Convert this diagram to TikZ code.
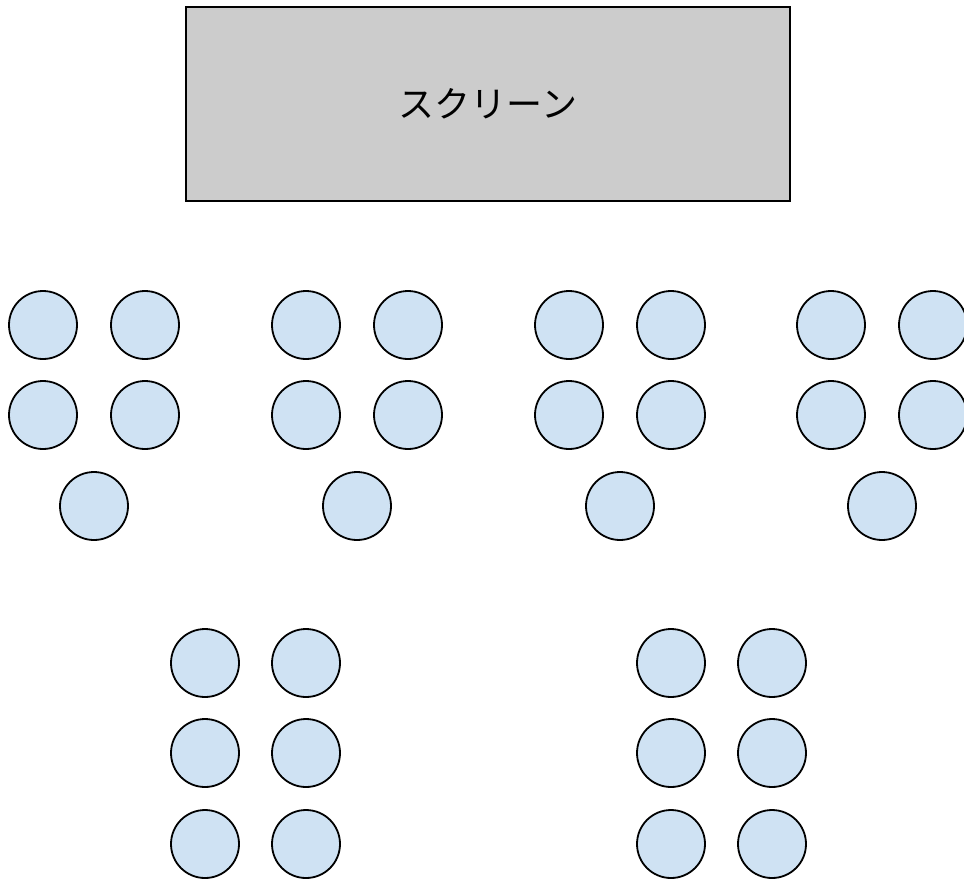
\documentclass[tikz,border=0pt]{standalone}
\usepackage{fontspec}
\newfontfamily\cjk{Noto Sans CJK JP}
\definecolor{seatblue}{HTML}{CFE2F3}
\definecolor{screengray}{HTML}{CCCCCC}
\tikzset{
  seat/.style={circle, draw=black, line width=1.8pt, fill=seatblue, minimum size=68pt, inner sep=0pt},
  screenbox/.style={draw=black, line width=1.8pt, fill=screengray, minimum width=604pt, minimum height=194pt, inner sep=0pt,
    font=\cjk\fontsize{36}{42}\selectfont}
}
\begin{document}
\begin{tikzpicture}[x=1pt,y=-1pt]
\useasboundingbox (0,0) rectangle (964,879);
\node[screenbox] (screen) at (488,104) {スクリーン};
% top groups of five
\foreach \g/\gx in {1/43,2/306,3/569,4/831}{
  \node[seat] (g\g a) at (\gx,325) {};
  \node[seat] (g\g b) at (\gx+102,325) {};
  \node[seat] (g\g c) at (\gx,415) {};
  \node[seat] (g\g d) at (\gx+102,415) {};
  \node[seat] (g\g e) at (\gx+51,506) {};
}
% bottom groups of six
\foreach \h/\hx in {1/205,2/671}{
  \node[seat] (h\h a) at (\hx,663) {};
  \node[seat] (h\h b) at (\hx+101,663) {};
  \node[seat] (h\h c) at (\hx,753) {};
  \node[seat] (h\h d) at (\hx+101,753) {};
  \node[seat] (h\h e) at (\hx,844) {};
  \node[seat] (h\h f) at (\hx+101,844) {};
}
\end{tikzpicture}
\end{document}
